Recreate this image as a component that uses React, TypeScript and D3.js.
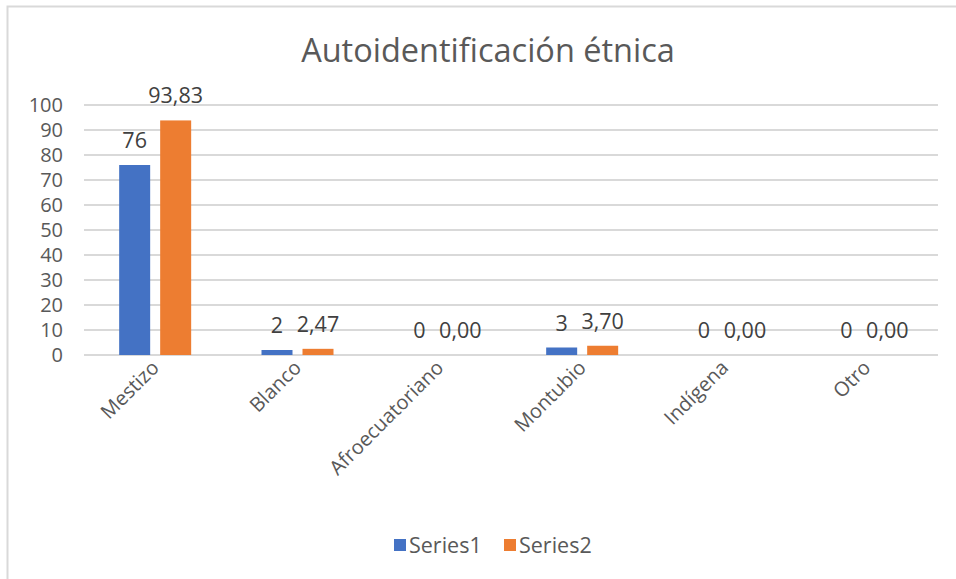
import React, { useEffect, useRef } from "react";
import * as d3 from "d3";

const categories = ["Mestizo", "Blanco", "Afroecuatoriano", "Montubio", "Indígena", "Otro"];
const series1 = [76, 2, 0, 3, 0, 0];
const series2 = [93.83, 2.47, 0, 3.7, 0, 0];
const seriesNames = ["Series1", "Series2"];
const yTicks = [0, 10, 20, 30, 40, 50, 60, 70, 80, 90, 100];

const W = 956;
const H = 579;
const colors = ["#4472c4", "#ed7d31"];
const textColor = "#595959";
const font = "'Segoe UI', 'Open Sans', 'Noto Sans', sans-serif";

const App = () => {
  const ref = useRef<SVGSVGElement>(null);

  useEffect(() => {
    const svg = d3.select(ref.current);
    svg.selectAll("*").remove();

    // chart frame
    svg.append("rect")
      .attr("x", 7.5).attr("y", 6.5)
      .attr("width", 1000).attr("height", 700)
      .attr("fill", "white")
      .attr("stroke", "#d9d9d9")
      .attr("stroke-width", 2);

    const left = 84, right = 938, top = 105, bottom = 355;

    const x = d3.scaleBand().domain(categories).range([left, right]);
    const y = d3.scaleLinear().domain([0, 100]).range([bottom, top]);

    svg.append("text")
      .attr("x", 488).attr("y", 62)
      .attr("text-anchor", "middle")
      .attr("font-family", font)
      .attr("font-size", 32.5)
      .attr("fill", textColor)
      .text("Autoidentificación étnica");

    // gridlines
    svg.append("g").selectAll("line")
      .data(yTicks)
      .enter().append("line")
      .attr("x1", left).attr("x2", right)
      .attr("y1", (d) => y(d)).attr("y2", (d) => y(d))
      .attr("stroke", "#d9d9d9")
      .attr("stroke-width", 2);

    svg.append("g").selectAll("text")
      .data(yTicks)
      .enter().append("text")
      .attr("x", 63).attr("y", (d) => y(d) + 7)
      .attr("text-anchor", "end")
      .attr("font-family", font)
      .attr("font-size", 20)
      .attr("fill", textColor)
      .text((d) => d);

    const barW = 31, gap = 10;
    const data = [series1, series2];
    const fmt = [(v: number) => String(v), (v: number) => v.toFixed(2).replace(".", ",")];

    data.forEach((vals, si) => {
      const offset = si === 0 ? -gap / 2 - barW : gap / 2;
      const g = svg.append("g");
      g.selectAll("rect")
        .data(vals)
        .enter().append("rect")
        .attr("x", (d, i) => x(categories[i])! + x.bandwidth() / 2 + offset)
        .attr("y", (d) => y(d))
        .attr("width", barW)
        .attr("height", (d) => bottom - y(d))
        .attr("fill", colors[si]);
      g.selectAll("text")
        .data(vals)
        .enter().append("text")
        .attr("x", (d, i) => x(categories[i])! + x.bandwidth() / 2 + offset + barW / 2)
        .attr("y", (d) => y(d) - 17)
        .attr("text-anchor", "middle")
        .attr("font-family", font)
        .attr("font-size", 21.5)
        .attr("fill", "#404040")
        .text((d) => fmt[si](d));
    });

    // category labels
    svg.append("g").selectAll("text")
      .data(categories)
      .enter().append("text")
      .attr("transform", (d) => `translate(${x(d)! + x.bandwidth() / 2 + 5},${bottom + 14}) rotate(-45)`)
      .attr("text-anchor", "end")
      .attr("font-family", font)
      .attr("font-size", 20)
      .attr("fill", textColor)
      .text((d) => d);

    // legend
    const legX = [394, 504];
    seriesNames.forEach((name, i) => {
      svg.append("rect")
        .attr("x", legX[i]).attr("y", 539)
        .attr("width", 12).attr("height", 12)
        .attr("fill", colors[i]);
      svg.append("text")
        .attr("x", legX[i] + 15).attr("y", 553)
        .attr("font-family", font)
        .attr("font-size", 21.5)
        .attr("fill", textColor)
        .text(name);
    });
  }, []);

  return (
    <svg
      ref={ref}
      width={W}
      height={H}
      style={{ position: "absolute", left: 0, top: 0, display: "block" }}
    />
  );
};

export default App;
